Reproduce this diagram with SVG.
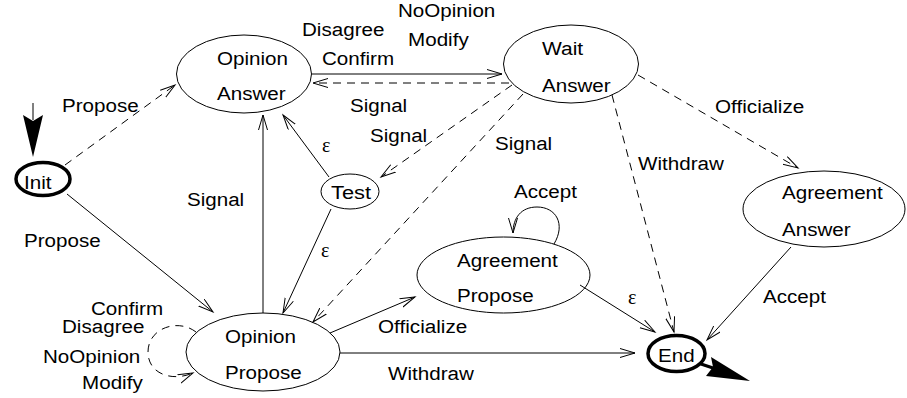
<svg xmlns="http://www.w3.org/2000/svg" width="907" height="398" viewBox="0 0 907 398">
  <style>
    .st { fill: none; stroke: #000; stroke-width: 1; }
    .fin { fill: none; stroke: #000; stroke-width: 3.5; }
    .ln { fill: none; stroke: #000; stroke-width: 1; marker-end: url(#open); }
    .dash { stroke-dasharray: 8 6; }
    text { font-family: "Liberation Sans", Arial, sans-serif; font-size: 18px; fill: #000; }
    text.eps { font-family: "Liberation Serif", "Times New Roman", serif; font-size: 20px; }
  </style>
  <defs>
    <marker id="open" markerUnits="userSpaceOnUse" markerWidth="18" markerHeight="12" refX="15" refY="5" orient="auto">
      <path d="M0,0.5 L15,5 L0,9.5" fill="none" stroke="#000" stroke-width="1" stroke-dasharray="none"/>
    </marker>
  </defs>

  <rect width="907" height="398" fill="#fff"/>

  <!-- transitions -->
  <g id="connectors">
    <line class="ln dash" x1="65" y1="165" x2="175" y2="85"/>
    <line class="ln" x1="67" y1="194" x2="213" y2="312"/>
    <line class="ln" x1="312" y1="74" x2="502" y2="74"/>
    <line class="ln dash" x1="509" y1="83" x2="313" y2="83"/>
    <line class="ln dash" x1="512" y1="85" x2="381" y2="177"/>
    <line class="ln dash" x1="523" y1="94" x2="313" y2="322"/>
    <line class="ln" x1="329" y1="177" x2="283" y2="115"/>
    <line class="ln" x1="331" y1="209" x2="283" y2="313"/>
    <line class="ln" x1="263" y1="313" x2="263" y2="115"/>
    <line class="ln dash" x1="638" y1="75" x2="798" y2="168"/>
    <line class="ln dash" x1="612" y1="95" x2="674" y2="332"/>
    <line class="ln" x1="791" y1="247" x2="707" y2="340"/>
    <line class="ln" x1="580" y1="285" x2="655" y2="332"/>
    <line class="ln" x1="330" y1="333" x2="415" y2="297"/>
    <line class="ln" x1="340" y1="353" x2="635" y2="353"/>
    <path class="ln" d="M554,244 C566,224 556,207 537,207 C521,207 513,218 513,233"/>
    <path class="ln dash" d="M196,332 C178,318 148,328 148,352 C148,374 172,382 193,373"/>
    <!-- start and final markers -->
    <line class="st" x1="33" y1="103" x2="33" y2="120"/>
    <polygon points="23,115 33,121 43,115 33,157" fill="#000"/>
    <line x1="701" y1="364" x2="713" y2="368" stroke="#000" stroke-width="3"/>
    <polygon points="711,357 750,381 706,376 713,367" fill="#000"/>
  </g>

  <!-- transition labels -->
  <g id="labels">
    <text x="62" y="112" textLength="76.7" lengthAdjust="spacingAndGlyphs">Propose</text>
    <text x="302" y="36" textLength="82.4" lengthAdjust="spacingAndGlyphs">Disagree</text>
    <text x="322" y="65" textLength="72.1" lengthAdjust="spacingAndGlyphs">Confirm</text>
    <text x="398" y="17" textLength="97.3" lengthAdjust="spacingAndGlyphs">NoOpinion</text>
    <text x="408" y="46" textLength="60.7" lengthAdjust="spacingAndGlyphs">Modify</text>
    <text x="350" y="112" textLength="57.2" lengthAdjust="spacingAndGlyphs">Signal</text>
    <text x="370" y="142" textLength="57.2" lengthAdjust="spacingAndGlyphs">Signal</text>
    <text class="eps" x="322" y="152">ε</text>
    <text x="495" y="150" textLength="57.2" lengthAdjust="spacingAndGlyphs">Signal</text>
    <text x="715" y="113" textLength="89.3" lengthAdjust="spacingAndGlyphs">Officialize</text>
    <text x="638" y="170" textLength="85.8" lengthAdjust="spacingAndGlyphs">Withdraw</text>
    <text x="514" y="198" textLength="63" lengthAdjust="spacingAndGlyphs">Accept</text>
    <text x="187" y="206" textLength="57.2" lengthAdjust="spacingAndGlyphs">Signal</text>
    <text x="24" y="247" textLength="76.7" lengthAdjust="spacingAndGlyphs">Propose</text>
    <text class="eps" x="321" y="257">ε</text>
    <text x="91" y="315" textLength="72.1" lengthAdjust="spacingAndGlyphs">Confirm</text>
    <text x="62" y="333" textLength="82.4" lengthAdjust="spacingAndGlyphs">Disagree</text>
    <text x="43" y="363" textLength="97.3" lengthAdjust="spacingAndGlyphs">NoOpinion</text>
    <text x="82" y="389" textLength="60.7" lengthAdjust="spacingAndGlyphs">Modify</text>
    <text x="378" y="333" textLength="89.3" lengthAdjust="spacingAndGlyphs">Officialize</text>
    <text x="388" y="380" textLength="85.8" lengthAdjust="spacingAndGlyphs">Withdraw</text>
    <text class="eps" x="628" y="304">ε</text>
    <text x="763" y="303" textLength="63" lengthAdjust="spacingAndGlyphs">Accept</text>
  </g>

  <!-- states -->
  <g id="init">
    <ellipse class="fin" cx="43" cy="179" rx="27" ry="16.5"/>
    <text x="24" y="189" textLength="27.5" lengthAdjust="spacingAndGlyphs">Init</text>
  </g>
  <g id="opinion-answer">
    <ellipse class="st" cx="244" cy="74" rx="67.5" ry="39"/>
    <text x="217" y="65" textLength="71" lengthAdjust="spacingAndGlyphs">Opinion</text>
    <text x="217" y="100" textLength="68.7" lengthAdjust="spacingAndGlyphs">Answer</text>
  </g>
  <g id="wait-answer">
    <ellipse class="st" cx="571" cy="64" rx="67.5" ry="39"/>
    <text x="542" y="55" textLength="41.2" lengthAdjust="spacingAndGlyphs">Wait</text>
    <text x="542" y="92" textLength="68.7" lengthAdjust="spacingAndGlyphs">Answer</text>
  </g>
  <g id="test">
    <ellipse class="st" cx="350" cy="191.5" rx="29" ry="17.5"/>
    <text x="331" y="199" textLength="40" lengthAdjust="spacingAndGlyphs">Test</text>
  </g>
  <g id="agreement-answer">
    <ellipse class="st" cx="824" cy="209" rx="81" ry="38"/>
    <text x="782" y="199" textLength="100.8" lengthAdjust="spacingAndGlyphs">Agreement</text>
    <text x="782" y="236" textLength="68.7" lengthAdjust="spacingAndGlyphs">Answer</text>
  </g>
  <g id="agreement-propose">
    <ellipse class="st" cx="503.5" cy="275" rx="86.5" ry="38"/>
    <text x="457" y="267" textLength="100.8" lengthAdjust="spacingAndGlyphs">Agreement</text>
    <text x="457" y="302" textLength="76.7" lengthAdjust="spacingAndGlyphs">Propose</text>
  </g>
  <g id="opinion-propose">
    <ellipse class="st" cx="263" cy="352" rx="77" ry="39"/>
    <text x="225" y="343" textLength="71" lengthAdjust="spacingAndGlyphs">Opinion</text>
    <text x="225" y="379" textLength="76.7" lengthAdjust="spacingAndGlyphs">Propose</text>
  </g>
  <g id="end">
    <ellipse class="fin" cx="676.5" cy="353.5" rx="28.5" ry="18"/>
    <text x="658" y="362" textLength="36.6" lengthAdjust="spacingAndGlyphs">End</text>
  </g>
</svg>
